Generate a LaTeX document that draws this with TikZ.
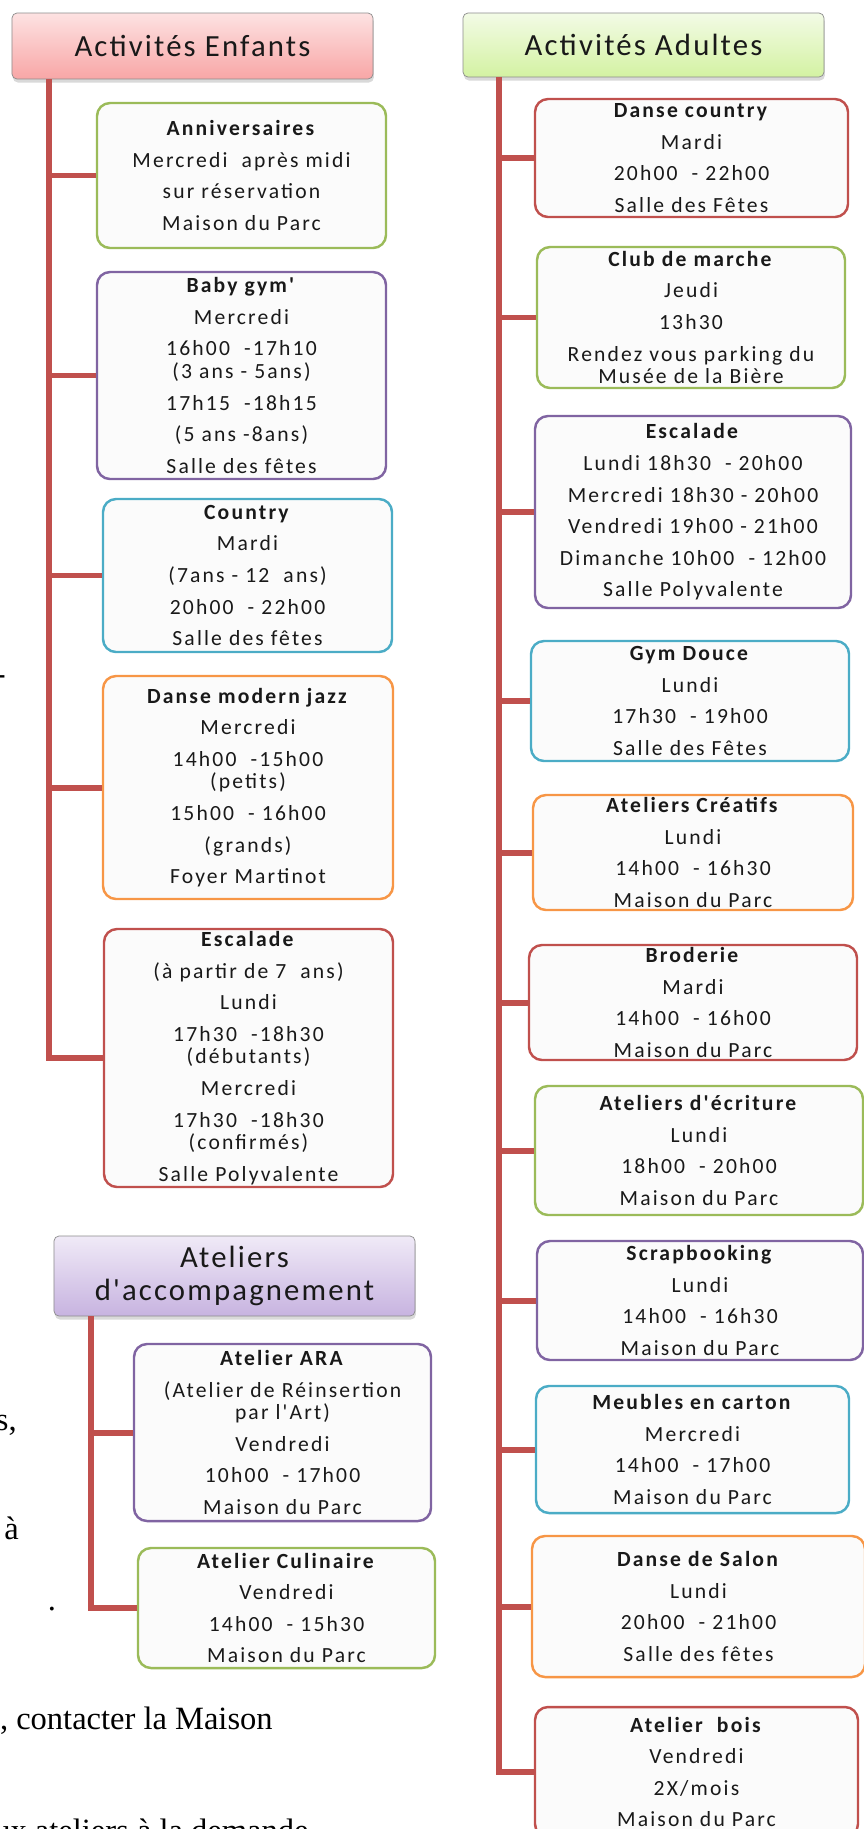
\documentclass[tikz,border=0pt]{standalone}
\usepackage{fontspec}
\setmainfont{Liberation Serif}
\newfontfamily\cardfamily[LetterSpace=10]{Carlito}
\newfontfamily\headfamily[LetterSpace=7]{Carlito}
\usetikzlibrary{shadows}
\definecolor{accRed}{HTML}{C0504D}
\definecolor{accGreen}{HTML}{9BBB59}
\definecolor{accPurple}{HTML}{8064A2}
\definecolor{accBlue}{HTML}{4BACC6}
\definecolor{accOrange}{HTML}{F79646}
\definecolor{pinkTop}{HTML}{FDE2E2}
\definecolor{pinkBot}{HTML}{F8A6A6}
\definecolor{greenTop}{HTML}{F3FBE6}
\definecolor{greenBot}{HTML}{D3F2A2}
\definecolor{lilacTop}{HTML}{F0EAF7}
\definecolor{lilacBot}{HTML}{C7B3E0}
\newcommand\cardfont{\cardfamily\fontsize{12.3}{12.8}\selectfont}
\newcommand\headfont{\headfamily\fontsize{17.5}{18.8}\selectfont}
\newcommand\notefont{\fontsize{18.5}{22}\selectfont}
\newcommand\ps{\\[5.2pt]}

\begin{document}
\begin{tikzpicture}[x=0.2mm, y=-0.2mm,
	head/.style 2 args = {draw=black!45, top color=#1, bottom color=#2, rounded corners=1mm, minimum width=72.2mm, inner sep=0pt, align=center, font=\headfont, text=black!90, drop shadow={opacity=0.3, shadow xshift=0.5pt, shadow yshift=-2pt}},
	card/.style = {draw=#1, line width=1.4pt, fill=black!1.5, rounded corners=2.6mm, inner sep=0pt, align=center, font=\cardfont, text=black!90},
	trunk/.style = {draw=accRed, line width=3.4pt},
	note/.style = {inner sep=0pt, font=\notefont}]
	\useasboundingbox (0,0) rectangle (864,1829);

	\node[note, anchor=base east] (dash) at (6,684) {-};
	\node[note, anchor=base east] (sComma) at (17,1430) {s,};
	\node[note, anchor=base west] (aGrave) at (4,1539) {à};
	\node[note, anchor=base] (dot) at (52,1610) {.};
	\node[note, anchor=base east] (contact) at (273,1729) {, contacter la Maison};
	\node[note, anchor=base west] (demande) at (-6,1841) {ux ateliers à la demande};

	\node[head={pinkTop}{pinkBot}, minimum height=13.2mm] (hE) at (192.5,46) {Activités Enfants};
	\node[card=accGreen, minimum width=57.8mm, minimum height=29mm] (anni) at (241.5,175.5) {\textbf{Anniversaires}\ps Mercredi~ après midi\ps sur réservation\ps Maison du Parc};
	\node[card=accPurple, minimum width=57.8mm, minimum height=41.4mm] (baby) at (241.5,375.5) {\textbf{Baby gym'}\ps Mercredi\ps 16h00~ -17h10\\(3 ans - 5ans)\ps 17h15~ -18h15\ps (5 ans -8ans)\ps Salle des fêtes};
	\node[card=accBlue, minimum width=57.8mm, minimum height=30.6mm] (country) at (247.5,575.5) {\textbf{Country}\ps Mardi\ps (7ans - 12~ ans)\ps 20h00~ - 22h00\ps Salle des fêtes};
	\node[card=accOrange, minimum width=58mm, minimum height=44.6mm] (jazz) at (248,787.5) {\textbf{Danse modern jazz}\ps Mercredi\ps 14h00~ -15h00\\(petits)\ps 15h00~ - 16h00\ps (grands)\ps Foyer Martinot};
	\node[card=accRed, minimum width=57.8mm, minimum height=51.6mm] (escE) at (248.5,1058) {\textbf{Escalade}\ps (à partir de 7~ ans)\ps Lundi\ps 17h30~ -18h30\\(débutants)\ps Mercredi\ps 17h30~ -18h30\\(confirmés)\ps Salle Polyvalente};

	\node[head={greenTop}{greenBot}, minimum height=12.8mm] (hA) at (643.5,45) {Activités Adultes};
	\node[card=accRed, minimum width=62.6mm, minimum height=23.6mm] (dcountry) at (691.5,158) {\textbf{Danse country}\ps Mardi\ps 20h00~ - 22h00\ps Salle des Fêtes};
	\node[card=accGreen, minimum width=61.6mm, minimum height=28.2mm] (marche) at (691,317.5) {\textbf{Club de marche}\ps Jeudi\ps 13h30\ps Rendez vous parking du\\Musée de la Bière};
	\node[card=accPurple, minimum width=63.2mm, minimum height=38.4mm] (escA) at (693,512) {\textbf{Escalade}\ps Lundi 18h30~ - 20h00\ps Mercredi 18h30 - 20h00\ps Vendredi 19h00 - 21h00\ps Dimanche 10h00~ - 12h00\ps Salle Polyvalente};
	\node[card=accBlue, minimum width=63.6mm, minimum height=24mm] (gym) at (690,701) {\textbf{Gym Douce}\ps Lundi\ps 17h30~ - 19h00\ps Salle des Fêtes};
	\node[card=accOrange, minimum width=64mm, minimum height=23mm] (creatif) at (693,852.5) {\textbf{Ateliers Créatifs}\ps Lundi\ps 14h00~ - 16h30\ps Maison du Parc};
	\node[card=accRed, minimum width=65.6mm, minimum height=23mm] (broderie) at (693,1002.5) {\textbf{Broderie}\ps Mardi\ps 14h00~ - 16h00\ps Maison du Parc};
	\node[card=accGreen, minimum width=65.6mm, minimum height=25.8mm] (ecriture) at (699,1150.5) {\textbf{Ateliers d'écriture}\ps Lundi\ps 18h00~ - 20h00\ps Maison du Parc};
	\node[card=accPurple, minimum width=65.2mm, minimum height=23.8mm] (scrap) at (700,1300.5) {\textbf{Scrapbooking}\ps Lundi\ps 14h00~ - 16h30\ps Maison du Parc};
	\node[card=accBlue, minimum width=62.6mm, minimum height=25.4mm] (meubles) at (692.5,1449.5) {\textbf{Meubles en carton}\ps Mercredi\ps 14h00~ - 17h00\ps Maison du Parc};
	\node[card=accOrange, minimum width=66.6mm, minimum height=28.2mm] (salon) at (698.5,1606.5) {\textbf{Danse de Salon}\ps Lundi\ps 20h00~ - 21h00\ps Salle des fêtes};
	\node[card=accRed, minimum width=64.6mm, minimum height=26mm] (bois) at (696.5,1772) {\textbf{Atelier~ bois}\ps Vendredi\ps 2X/mois\ps Maison du Parc};

	\node[head={lilacTop}{lilacBot}, minimum height=16mm] (hC) at (234.5,1276) {Ateliers\\d'accompagnement};
	\node[card=accPurple, minimum width=59.4mm, minimum height=35.4mm] (ara) at (282.5,1432.5) {\textbf{Atelier ARA}\ps (Atelier de Réinsertion\\par l'Art)\ps Vendredi\ps 10h00~ - 17h00\ps Maison du Parc};
	\node[card=accGreen, minimum width=59.4mm, minimum height=24mm] (culin) at (286.5,1608) {\textbf{Atelier Culinaire}\ps Vendredi\ps 14h00~ - 15h30\ps Maison du Parc};

	\coordinate (eT) at (49,1058);
	\coordinate (aT) at (499,1772);
	\coordinate (cT) at (91,1608);

	\draw[trunk] (hE.south -| eT) |- (escE.west);
	\draw[trunk] (anni.west) -- (anni.west -| eT);
	\draw[trunk] (baby.west) -- (baby.west -| eT);
	\draw[trunk] (country.west) -- (country.west -| eT);
	\draw[trunk] (jazz.west) -- (jazz.west -| eT);

	\draw[trunk] (hA.south -| aT) |- (bois.west);
	\draw[trunk] (dcountry.west) -- (dcountry.west -| aT);
	\draw[trunk] (marche.west) -- (marche.west -| aT);
	\draw[trunk] (escA.west) -- (escA.west -| aT);
	\draw[trunk] (gym.west) -- (gym.west -| aT);
	\draw[trunk] (creatif.west) -- (creatif.west -| aT);
	\draw[trunk] (broderie.west) -- (broderie.west -| aT);
	\draw[trunk] (ecriture.west) -- (ecriture.west -| aT);
	\draw[trunk] (scrap.west) -- (scrap.west -| aT);
	\draw[trunk] (meubles.west) -- (meubles.west -| aT);
	\draw[trunk] (salon.west) -- (salon.west -| aT);

	\draw[trunk] (hC.south -| cT) |- (culin.west);
	\draw[trunk] (ara.west) -- (ara.west -| cT);
\end{tikzpicture}
\end{document}
